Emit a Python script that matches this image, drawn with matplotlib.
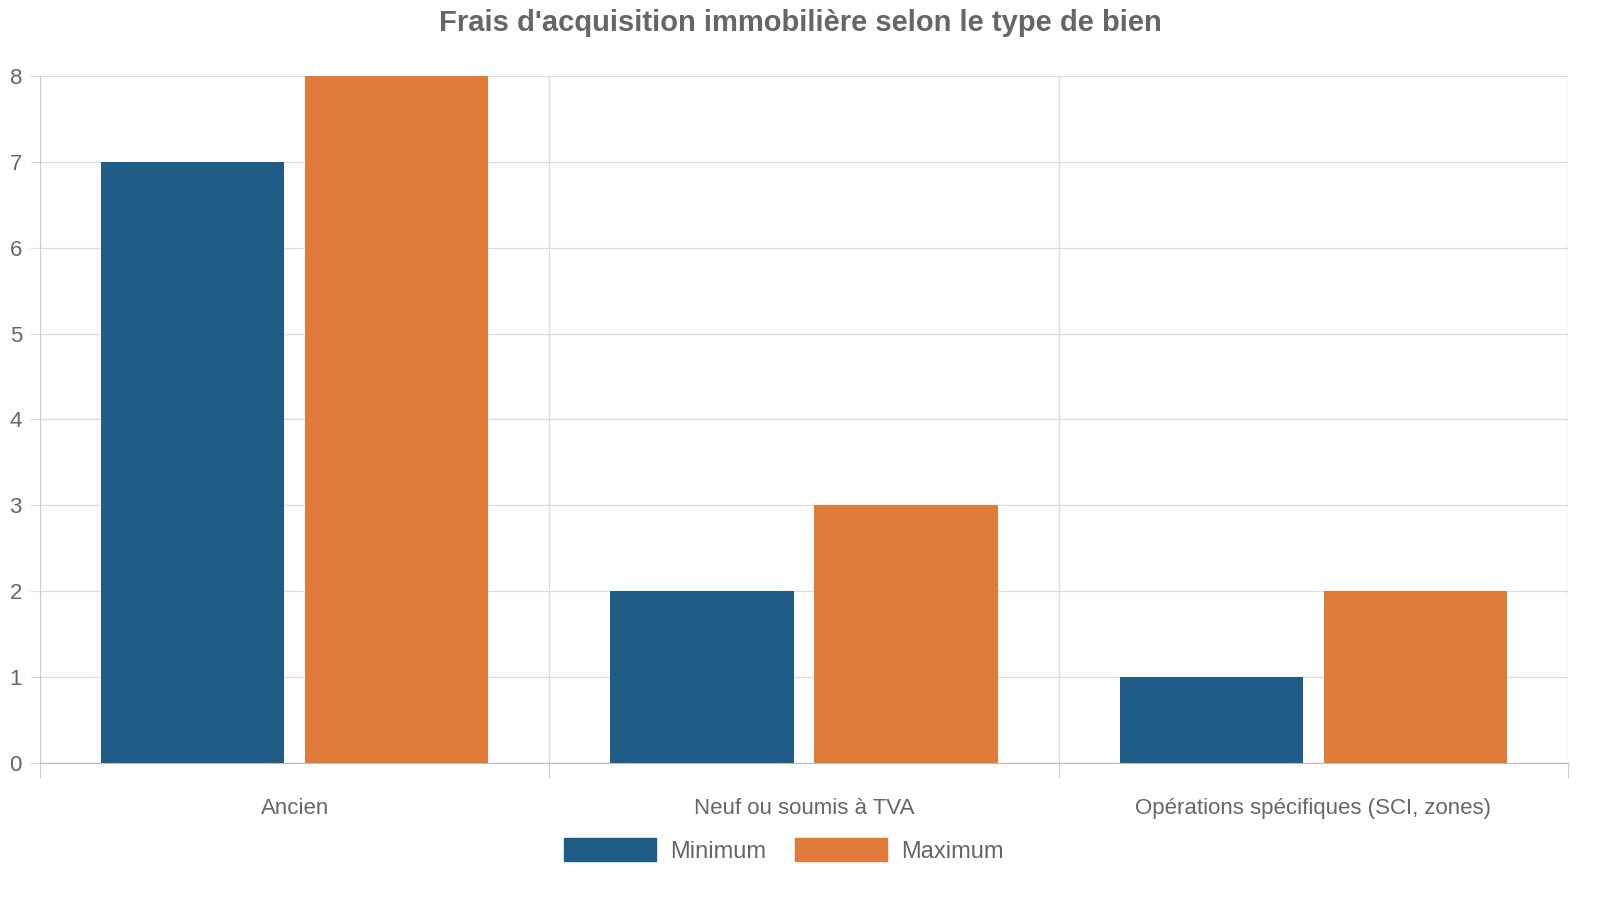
import matplotlib
matplotlib.use("Agg")
import matplotlib.pyplot as plt
import numpy as np
from matplotlib.patches import Patch

plt.rcParams['font.family'] = ['Liberation Sans', 'DejaVu Sans']

categories = ["Ancien", "Neuf ou soumis à TVA", "Opérations spécifiques (SCI, zones)"]
minimum = [7, 2, 1]
maximum = [8, 3, 2]
series_names = ["Minimum", "Maximum"]
colors = ["#1f5c87", "#e07b39"]

fig = plt.figure(figsize=(16, 9), dpi=100)
ax = fig.add_axes([0.025, 0.1522, 0.955, 0.7634])
x = np.arange(len(categories))
ax.bar(x - 0.2, minimum, 0.36, color=colors[0], zorder=3)
ax.bar(x + 0.2, maximum, 0.36, color=colors[1], zorder=3)

ax.set_xlim(-0.5, 2.5)
ax.set_ylim(0, 8)
ax.set_yticks(range(0, 9))
ax.set_xticks([-0.5, 0.5, 1.5, 2.5])
ax.set_xticklabels([])
ax.set_xticks(x, minor=True)
ax.set_xticklabels(categories, minor=True)
ax.tick_params(axis='x', which='major', length=11, color='#cccccc')
ax.tick_params(axis='x', which='minor', length=0, pad=25, labelsize=16, labelcolor='#666666')
ax.tick_params(axis='y', length=7, color='#dddddd', labelsize=16, labelcolor='#666666', pad=6)
ax.grid(True, which='major', color='#dddddd', linewidth=1, zorder=0)
for s in ['top', 'right']:
    ax.spines[s].set_visible(False)
ax.spines['left'].set_color('#cccccc')
ax.spines['bottom'].set_color('#bbbbbb')

fig.suptitle("Frais d'acquisition immobilière selon le type de bien", y=0.99,
             fontsize=21, fontweight='bold', color='#666666')
handles = [Patch(color=c) for c in colors]
fig.legend(handles, series_names, loc='center', bbox_to_anchor=(0.49, 0.055), ncol=2,
           frameon=False, fontsize=17, labelcolor='#666666', handlelength=3.9,
           handleheight=1.1, columnspacing=1.2, handletextpad=0.6)
fig.savefig("out.png", dpi=100)
